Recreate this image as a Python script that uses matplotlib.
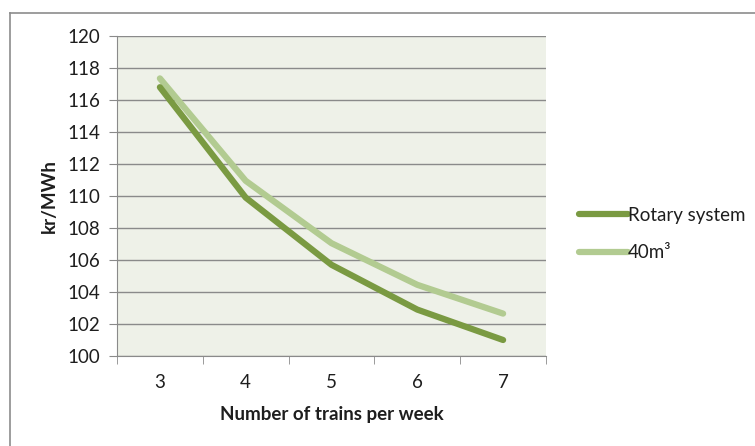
import matplotlib
matplotlib.use("Agg")
import matplotlib.pyplot as plt
from matplotlib.lines import Line2D

# Data
trains_per_week = ["3", "4", "5", "6", "7"]
rotary_system = [116.8, 109.9, 105.7, 102.9, 101.0]
tank_40m3 = [117.35, 110.95, 107.05, 104.45, 102.65]
y_ticks = [100, 102, 104, 106, 108, 110, 112, 114, 116, 118, 120]

plt.rcParams["font.family"] = ["Lato", "DejaVu Sans"]
FS = 13.5
TXT = "#1e1e1e"
GRID = "#8a8a8a"

fig = plt.figure(figsize=(7.55, 4.46), dpi=100)
fig.patch.set_facecolor("white")

# Chart frame (top and left edges visible)
fig.add_artist(Line2D([10 / 755, 10 / 755], [0, 1 - 13 / 446],
                      transform=fig.transFigure, color="#8c8c8c", lw=1.2))
fig.add_artist(Line2D([10 / 755, 1], [1 - 13 / 446, 1 - 13 / 446],
                      transform=fig.transFigure, color="#8c8c8c", lw=1.2))

ax = fig.add_axes([117 / 755, 90 / 446, 429 / 755, 320 / 446])
ax.set_facecolor("#eef1e8")

x = list(range(len(trains_per_week)))
ax.plot(x, rotary_system, color="#7a9a42", lw=4.5, solid_capstyle="round",
        solid_joinstyle="round", label="Rotary system", zorder=3)
ax.plot(x, tank_40m3, color="#b2cb91", lw=4.5, solid_capstyle="round",
        solid_joinstyle="round", label="40m³", zorder=2)

ax.set_xlim(-0.5, len(trains_per_week) - 0.5)
ax.set_ylim(100, 120)
ax.set_yticks(y_ticks)
ax.set_yticklabels([str(v) for v in y_ticks], fontsize=FS, color=TXT)
ax.set_xticks(x)
ax.set_xticklabels(trains_per_week, fontsize=FS, color=TXT)
ax.set_xticks([i - 0.5 for i in range(len(trains_per_week) + 1)], minor=True)

ax.grid(axis="y", color=GRID, lw=1.0, zorder=1)
ax.set_axisbelow(True)
for side in ["top", "right"]:
    ax.spines[side].set_visible(False)
ax.spines["left"].set_color(GRID)
ax.spines["bottom"].set_color(GRID)
ax.tick_params(axis="y", length=6, color=GRID, pad=6, direction="out")
ax.tick_params(axis="x", which="major", length=0, pad=13)
ax.tick_params(axis="x", which="minor", length=6, color=GRID, direction="out")

ax.set_xlabel("Number of trains per week", fontsize=FS, fontweight="bold",
              color=TXT, labelpad=11)
ax.set_ylabel("kr/MWh", fontsize=FS, fontweight="bold", color=TXT,
              labelpad=7)

leg = fig.legend(loc="upper left", bbox_to_anchor=(562 / 755, 1 - 190 / 446),
                 frameon=False, fontsize=FS, handlelength=2.6,
                 handletextpad=0.0, labelspacing=1.1)
for t in leg.get_texts():
    t.set_color(TXT)

fig.savefig("out.png", dpi=100)
